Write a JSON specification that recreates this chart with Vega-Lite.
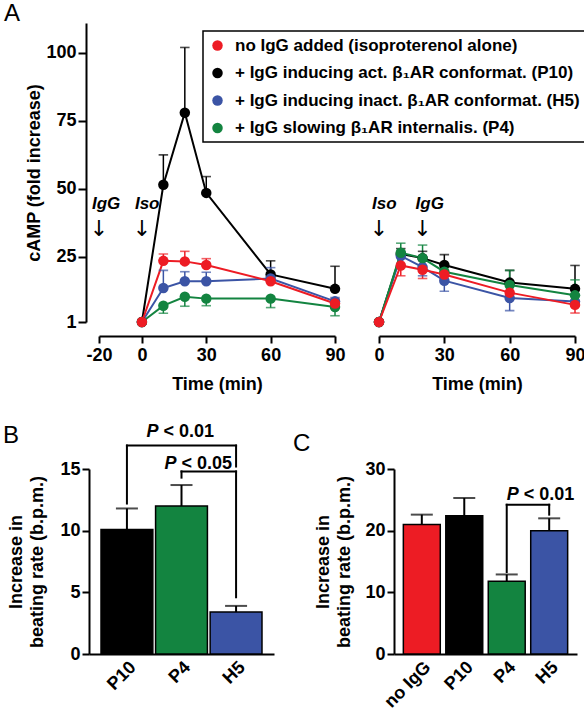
{
  "$schema": "https://vega.github.io/schema/vega-lite/v6.json",
  "padding": {"left": 3, "top": 2, "right": 0, "bottom": 0},
  "config": {
    "view": {"stroke": null},
    "font": "Liberation Sans",
    "axis": {
      "labelFont": "Liberation Sans", "labelFontSize": 18, "labelFontWeight": "bold", "labelColor": "#000",
      "titleFont": "Liberation Sans", "titleFontSize": 18, "titleFontWeight": "bold", "titleColor": "#000",
      "domainColor": "#000", "domainWidth": 2, "tickColor": "#000", "tickWidth": 2, "tickSize": 7,
      "grid": false, "labelPadding": 2, "titlePadding": 4, "labelFlush": false, "labelOverlap": false
    },
    "legend": {
      "strokeColor": "#000", "strokeWidth": 1.5, "padding": 6, "rowPadding": 9.5,
      "labelFont": "Liberation Sans", "labelFontSize": 17, "labelFontWeight": "bold", "labelColor": "#000",
      "labelLimit": 500, "symbolType": "circle", "symbolSize": 110, "labelOffset": 9, "symbolStrokeWidth": 0, "symbolOpacity": 1
    },
    "title": {"font": "Liberation Sans", "fontSize": 24, "fontWeight": "normal", "color": "#000", "anchor": "start", "frame": "group", "offset": 0, "baseline": "alphabetic"}
  },
  "datasets": {
    "ts": [
      {"p": "L", "s": "P10", "t": 0, "v": 1},
      {"p": "L", "s": "P10", "t": 10, "v": 51.5, "e": 62.5},
      {"p": "L", "s": "P10", "t": 20, "v": 78, "e": 102},
      {"p": "L", "s": "P10", "t": 30, "v": 48.5, "e": 54.5},
      {"p": "L", "s": "P10", "t": 60, "v": 18.5, "e": 23.5},
      {"p": "L", "s": "P10", "t": 90, "v": 13.2, "e": 21.5},
      {"p": "L", "s": "H5", "t": 0, "v": 1},
      {"p": "L", "s": "H5", "t": 10, "v": 13.5, "e": 20},
      {"p": "L", "s": "H5", "t": 20, "v": 16, "e": 19.5},
      {"p": "L", "s": "H5", "t": 30, "v": 16, "e": 19.3},
      {"p": "L", "s": "H5", "t": 60, "v": 17, "e": 21},
      {"p": "L", "s": "H5", "t": 90, "v": 8.6, "e": 10},
      {"p": "L", "s": "P4", "t": 0, "v": 1},
      {"p": "L", "s": "P4", "t": 10, "v": 7, "e": 4.2},
      {"p": "L", "s": "P4", "t": 20, "v": 10.3, "e": 6.8},
      {"p": "L", "s": "P4", "t": 30, "v": 9.6, "e": 7},
      {"p": "L", "s": "P4", "t": 60, "v": 9.6, "e": 6.3},
      {"p": "L", "s": "P4", "t": 90, "v": 6.5, "e": 3.3},
      {"p": "L", "s": "noIgG", "t": 0, "v": 1},
      {"p": "L", "s": "noIgG", "t": 10, "v": 23.5, "e": 26},
      {"p": "L", "s": "noIgG", "t": 20, "v": 23.3, "e": 27},
      {"p": "L", "s": "noIgG", "t": 30, "v": 22, "e": 24.3},
      {"p": "L", "s": "noIgG", "t": 60, "v": 16, "e": 17.5},
      {"p": "L", "s": "noIgG", "t": 90, "v": 7.8, "e": 9.5},
      {"p": "R", "s": "P10", "t": 0, "v": 1},
      {"p": "R", "s": "P10", "t": 10, "v": 26, "e": 28},
      {"p": "R", "s": "P10", "t": 20, "v": 24.5, "e": 27},
      {"p": "R", "s": "P10", "t": 30, "v": 22, "e": 25.8},
      {"p": "R", "s": "P10", "t": 60, "v": 15.5, "e": 20},
      {"p": "R", "s": "P10", "t": 90, "v": 13.2, "e": 21.8},
      {"p": "R", "s": "H5", "t": 0, "v": 1},
      {"p": "R", "s": "H5", "t": 10, "v": 25.3},
      {"p": "R", "s": "H5", "t": 20, "v": 21.2, "e": 18},
      {"p": "R", "s": "H5", "t": 30, "v": 16.2, "e": 12.3},
      {"p": "R", "s": "H5", "t": 60, "v": 9.8, "e": 5.2},
      {"p": "R", "s": "H5", "t": 90, "v": 8.5},
      {"p": "R", "s": "P4", "t": 0, "v": 1},
      {"p": "R", "s": "P4", "t": 10, "v": 26.5, "e": 30},
      {"p": "R", "s": "P4", "t": 20, "v": 24.5, "e": 29.3},
      {"p": "R", "s": "P4", "t": 30, "v": 19.5, "e": 22},
      {"p": "R", "s": "P4", "t": 60, "v": 14.6, "e": 20},
      {"p": "R", "s": "P4", "t": 90, "v": 10.8, "e": 16.5},
      {"p": "R", "s": "noIgG", "t": 0, "v": 1},
      {"p": "R", "s": "noIgG", "t": 10, "v": 21.8, "e": 18},
      {"p": "R", "s": "noIgG", "t": 20, "v": 20.2, "e": 17},
      {"p": "R", "s": "noIgG", "t": 30, "v": 18.5, "e": 16.5},
      {"p": "R", "s": "noIgG", "t": 60, "v": 11.8, "e": 9.5},
      {"p": "R", "s": "noIgG", "t": 90, "v": 7.3, "e": 4.3}
    ],
    "notes": [
      {"p": "L", "t": -20, "label": "IgG", "arrow": "↓"},
      {"p": "L", "t": 0, "label": "Iso", "arrow": "↓"},
      {"p": "R", "t": 0, "label": "Iso", "arrow": "↓"},
      {"p": "R", "t": 20, "label": "IgG", "arrow": "↓"}
    ],
    "bars": [
      {"p": "B", "grp": "P10", "v": 10.1, "e": 11.8},
      {"p": "B", "grp": "P4", "v": 12.0, "e": 13.7},
      {"p": "B", "grp": "H5", "v": 3.4, "e": 3.9},
      {"p": "C", "grp": "no IgG", "v": 21, "e": 22.6},
      {"p": "C", "grp": "P10", "v": 22.4, "e": 25.3},
      {"p": "C", "grp": "P4", "v": 11.8, "e": 12.9},
      {"p": "C", "grp": "H5", "v": 20, "e": 22}
    ],
    "brackets": [
      {"p": "B", "a": "P10", "b": "P10", "y1": 12.2, "y2": 16.9},
      {"p": "B", "a": "P10", "b": "H5", "y1": 16.9, "y2": 16.9},
      {"p": "B", "a": "H5", "b": "H5", "y1": 16.9, "y2": 15.2},
      {"p": "B", "a": "P4", "b": "P4", "y1": 14.3, "y2": 14.8},
      {"p": "B", "a": "P4", "b": "H5", "y1": 14.8, "y2": 14.8},
      {"p": "B", "a": "H5", "b": "H5", "y1": 14.8, "y2": 4.6},
      {"p": "C", "a": "P4", "b": "P4", "y1": 13.3, "y2": 24.2},
      {"p": "C", "a": "P4", "b": "H5", "y1": 24.2, "y2": 24.2},
      {"p": "C", "a": "H5", "b": "H5", "y1": 24.2, "y2": 22.6}
    ]
  },
  "spacing": 29,
  "vconcat": [
    {
      "bounds": "flush",
      "spacing": 0,
      "resolve": {"scale": {"x": "independent", "y": "independent", "color": "independent", "stroke": "independent"}, "legend": {"color": "independent", "stroke": "independent"}},
      "hconcat": [
        {"width": 10, "height": 10, "data": {"values": [{"k": 0}]}, "mark": {"type": "text", "text": ""}},
        {
          "width": 236, "height": 299,
          "title": {"text": "A", "dx": -95, "dy": 7},
          "layer": [
            {
              "data": {"name": "ts"}, "transform": [{"filter": "datum.p == 'L'"}],
              "mark": {"type": "line", "strokeWidth": 2},
              "encoding": {
                "x": {"field": "t", "type": "quantitative", "scale": {"domain": [-20, 90], "nice": false, "zero": false}, "axis": {"values": [-20, 0, 30, 60, 90], "offset": 14, "title": "Time (min)", "labelExpr": "'' + datum.value", "labelPadding": 3, "titleY": 53, "titleBaseline": "alphabetic"}},
                "y": {"field": "v", "type": "quantitative", "scale": {"domain": [1, 111], "nice": false, "zero": false}, "axis": {"values": [1, 25, 50, 75, 100], "offset": 13, "title": "cAMP (fold increase)", "titlePadding": 2, "tickSize": 8}},
                "stroke": {"field": "s", "type": "nominal", "scale": {"domain": ["noIgG", "P10", "H5", "P4"], "range": ["#ed1c24", "#000000", "#3b54a5", "#138440"]}}
              }
            },
            {
              "data": {"name": "ts"}, "transform": [{"filter": "datum.p == 'L' && isValid(datum.e)"}],
              "mark": {"type": "rule", "strokeWidth": 1.5},
              "encoding": {
                "x": {"field": "t", "type": "quantitative", "scale": {"domain": [-20, 90], "nice": false, "zero": false}},
                "y": {"field": "v", "type": "quantitative", "scale": {"domain": [1, 111], "nice": false, "zero": false}},
                "y2": {"field": "e"},
                "stroke": {"field": "s", "type": "nominal", "scale": {"domain": ["noIgG", "P10", "H5", "P4"], "range": ["#ed1c24", "#000000", "#3b54a5", "#138440"]}}
              }
            },
            {
              "data": {"name": "ts"}, "transform": [{"filter": "datum.p == 'L' && isValid(datum.e)"}],
              "mark": {"type": "tick", "orient": "horizontal", "size": 8, "thickness": 0.1, "filled": false, "strokeWidth": 1.5},
              "encoding": {
                "x": {"field": "t", "type": "quantitative", "scale": {"domain": [-20, 90], "nice": false, "zero": false}},
                "y": {"field": "e", "type": "quantitative", "scale": {"domain": [1, 111], "nice": false, "zero": false}},
                "stroke": {"field": "s", "type": "nominal", "scale": {"domain": ["noIgG", "P10", "H5", "P4"], "range": ["#ed1c24", "#000000", "#3b54a5", "#138440"]}}
              }
            },
            {
              "data": {"name": "ts"}, "transform": [{"filter": "datum.p == 'L'"}],
              "mark": {"type": "circle", "size": 110, "opacity": 1},
              "encoding": {
                "x": {"field": "t", "type": "quantitative", "scale": {"domain": [-20, 90], "nice": false, "zero": false}},
                "y": {"field": "v", "type": "quantitative", "scale": {"domain": [1, 111], "nice": false, "zero": false}},
                "color": {"field": "s", "type": "nominal", "scale": {"domain": ["noIgG", "P10", "H5", "P4"], "range": ["#ed1c24", "#000000", "#3b54a5", "#138440"]},
                  "legend": {"title": null, "orient": "none", "legendX": 104, "legendY": 8, "symbolOpacity": 1,
                    "labelExpr": "datum.value == 'noIgG' ? 'no IgG added (isoproterenol alone)' : datum.value == 'P10' ? '+ IgG inducing act. β₁AR conformat. (P10)' : datum.value == 'H5' ? '+ IgG inducing inact. β₁AR conformat. (H5)' : '+ IgG slowing β₁AR internalis. (P4)'"}}
              }
            },
            {
              "data": {"name": "notes"}, "transform": [{"filter": "datum.p == 'L'"}],
              "mark": {"type": "text", "fontSize": 17, "fontWeight": "bold", "fontStyle": "italic", "align": "left", "baseline": "middle", "dx": -7},
              "encoding": {
                "x": {"field": "t", "type": "quantitative", "scale": {"domain": [-20, 90], "nice": false, "zero": false}},
                "y": {"datum": 44.4, "type": "quantitative", "scale": {"domain": [1, 111], "nice": false, "zero": false}},
                "text": {"field": "label"}
              }
            },
            {
              "data": {"name": "notes"}, "transform": [{"filter": "datum.p == 'L'"}],
              "mark": {"type": "text", "font": "DejaVu Sans", "fontSize": 22, "fontWeight": "normal", "align": "center", "baseline": "middle", "color": "#000"},
              "encoding": {
                "x": {"field": "t", "type": "quantitative", "scale": {"domain": [-20, 90], "nice": false, "zero": false}},
                "y": {"datum": 35.3, "type": "quantitative", "scale": {"domain": [1, 111], "nice": false, "zero": false}},
                "text": {"field": "arrow"}
              }
            }
          ]
        },
        {"width": 44, "height": 10, "data": {"values": [{"k": 0}]}, "mark": {"type": "text", "text": ""}},
        {
          "width": 196, "height": 299,
          "layer": [
            {
              "data": {"name": "ts"}, "transform": [{"filter": "datum.p == 'R'"}],
              "mark": {"type": "line", "strokeWidth": 2},
              "encoding": {
                "x": {"field": "t", "type": "quantitative", "scale": {"domain": [0, 90], "nice": false, "zero": false}, "axis": {"values": [0, 30, 60, 90], "offset": 14, "title": "Time (min)", "labelPadding": 3, "titleY": 53, "titleBaseline": "alphabetic"}},
                "y": {"field": "v", "type": "quantitative", "scale": {"domain": [1, 111], "nice": false, "zero": false}, "axis": null},
                "stroke": {"field": "s", "type": "nominal", "scale": {"domain": ["noIgG", "P10", "H5", "P4"], "range": ["#ed1c24", "#000000", "#3b54a5", "#138440"]}, "legend": null}
              }
            },
            {
              "data": {"name": "ts"}, "transform": [{"filter": "datum.p == 'R' && isValid(datum.e)"}],
              "mark": {"type": "rule", "strokeWidth": 1.5},
              "encoding": {
                "x": {"field": "t", "type": "quantitative", "scale": {"domain": [0, 90], "nice": false, "zero": false}},
                "y": {"field": "v", "type": "quantitative", "scale": {"domain": [1, 111], "nice": false, "zero": false}, "axis": null},
                "y2": {"field": "e"},
                "stroke": {"field": "s", "type": "nominal", "scale": {"domain": ["noIgG", "P10", "H5", "P4"], "range": ["#ed1c24", "#000000", "#3b54a5", "#138440"]}, "legend": null}
              }
            },
            {
              "data": {"name": "ts"}, "transform": [{"filter": "datum.p == 'R' && isValid(datum.e)"}],
              "mark": {"type": "tick", "orient": "horizontal", "size": 8, "thickness": 0.1, "filled": false, "strokeWidth": 1.5},
              "encoding": {
                "x": {"field": "t", "type": "quantitative", "scale": {"domain": [0, 90], "nice": false, "zero": false}},
                "y": {"field": "e", "type": "quantitative", "scale": {"domain": [1, 111], "nice": false, "zero": false}, "axis": null},
                "stroke": {"field": "s", "type": "nominal", "scale": {"domain": ["noIgG", "P10", "H5", "P4"], "range": ["#ed1c24", "#000000", "#3b54a5", "#138440"]}, "legend": null}
              }
            },
            {
              "data": {"name": "ts"}, "transform": [{"filter": "datum.p == 'R'"}],
              "mark": {"type": "circle", "size": 110, "opacity": 1},
              "encoding": {
                "x": {"field": "t", "type": "quantitative", "scale": {"domain": [0, 90], "nice": false, "zero": false}},
                "y": {"field": "v", "type": "quantitative", "scale": {"domain": [1, 111], "nice": false, "zero": false}, "axis": null},
                "color": {"field": "s", "type": "nominal", "scale": {"domain": ["noIgG", "P10", "H5", "P4"], "range": ["#ed1c24", "#000000", "#3b54a5", "#138440"]}, "legend": null}
              }
            },
            {
              "data": {"name": "notes"}, "transform": [{"filter": "datum.p == 'R'"}],
              "mark": {"type": "text", "fontSize": 17, "fontWeight": "bold", "fontStyle": "italic", "align": "left", "baseline": "middle", "dx": -7},
              "encoding": {
                "x": {"field": "t", "type": "quantitative", "scale": {"domain": [0, 90], "nice": false, "zero": false}},
                "y": {"datum": 44.4, "type": "quantitative", "scale": {"domain": [1, 111], "nice": false, "zero": false}, "axis": null},
                "text": {"field": "label"}
              }
            },
            {
              "data": {"name": "notes"}, "transform": [{"filter": "datum.p == 'R'"}],
              "mark": {"type": "text", "font": "DejaVu Sans", "fontSize": 22, "fontWeight": "normal", "align": "center", "baseline": "middle", "color": "#000"},
              "encoding": {
                "x": {"field": "t", "type": "quantitative", "scale": {"domain": [0, 90], "nice": false, "zero": false}},
                "y": {"datum": 35.3, "type": "quantitative", "scale": {"domain": [1, 111], "nice": false, "zero": false}, "axis": null},
                "text": {"field": "arrow"}
              }
            }
          ]
        }
      ]
    },
    {
      "bounds": "flush",
      "spacing": 0,
      "resolve": {"scale": {"x": "independent", "y": "independent", "color": "independent"}},
      "hconcat": [
        {
          "width": 185, "height": 185,
          "title": {"text": "B", "dx": -86, "dy": 29},
          "layer": [
            {
              "data": {"name": "bars"}, "transform": [{"filter": "datum.p == 'B'"}],
              "mark": {"type": "bar", "stroke": "#000", "strokeWidth": 1.5},
              "encoding": {
                "x": {"field": "grp", "type": "nominal", "sort": null, "scale": {"domain": ["P10", "P4", "H5"], "paddingInner": 0.05, "paddingOuter": 0.22}, "axis": {"labelAngle": -45, "ticks": false, "title": null, "labelPadding": 4}},
                "y": {"field": "v", "type": "quantitative", "scale": {"domain": [0, 15], "nice": false}, "axis": {"values": [0, 5, 10, 15], "title": ["Increase in", "beating rate (b.p.m.)"], "titleLineHeight": 21, "titlePadding": 13}},
                "color": {"field": "grp", "type": "nominal", "scale": {"domain": ["no IgG", "P10", "H5", "P4"], "range": ["#ed1c24", "#000000", "#3b54a5", "#138440"]}, "legend": null}
              }
            },
            {
              "data": {"name": "bars"}, "transform": [{"filter": "datum.p == 'B'"}],
              "mark": {"type": "rule", "strokeWidth": 2, "color": "#000"},
              "encoding": {
                "x": {"field": "grp", "type": "nominal", "sort": null, "scale": {"domain": ["P10", "P4", "H5"], "paddingInner": 0.05, "paddingOuter": 0.22}},
                "y": {"field": "v", "type": "quantitative", "scale": {"domain": [0, 15], "nice": false}},
                "y2": {"field": "e"}
              }
            },
            {
              "data": {"name": "bars"}, "transform": [{"filter": "datum.p == 'B'"}],
              "mark": {"type": "tick", "orient": "horizontal", "size": 22, "thickness": 2, "color": "#000"},
              "encoding": {
                "x": {"field": "grp", "type": "nominal", "sort": null, "scale": {"domain": ["P10", "P4", "H5"], "paddingInner": 0.05, "paddingOuter": 0.22}},
                "y": {"field": "e", "type": "quantitative", "scale": {"domain": [0, 15], "nice": false}}
              }
            },
            {
              "data": {"name": "brackets"}, "transform": [{"filter": "datum.p == 'B'"}],
              "mark": {"type": "rule", "strokeWidth": 2, "color": "#000", "strokeCap": "square"},
              "encoding": {
                "x": {"field": "a", "type": "nominal", "sort": null, "scale": {"domain": ["P10", "P4", "H5"], "paddingInner": 0.05, "paddingOuter": 0.22}},
                "x2": {"field": "b"},
                "y": {"field": "y1", "type": "quantitative", "scale": {"domain": [0, 15], "nice": false}},
                "y2": {"field": "y2"}
              }
            },
            {
              "data": {"values": [{"grp": "P4", "y": 17.6, "pt": "P", "rest": "< 0.01"}]},
              "layer": [
                {"mark": {"type": "text", "fontSize": 18, "fontWeight": "bold", "fontStyle": "italic", "align": "right", "baseline": "alphabetic", "dx": -23},
                 "encoding": {"text": {"field": "pt"}}},
                {"mark": {"type": "text", "fontSize": 18, "fontWeight": "bold", "align": "left", "baseline": "alphabetic", "dx": -18},
                 "encoding": {"text": {"field": "rest"}}}
              ],
              "encoding": {
                "x": {"field": "grp", "type": "nominal", "sort": null, "scale": {"domain": ["P10", "P4", "H5"], "paddingInner": 0.05, "paddingOuter": 0.22}},
                "y": {"field": "y", "type": "quantitative", "scale": {"domain": [0, 15], "nice": false}}
              }
            },
            {
              "data": {"values": [{"grp": "P4", "y": 15.0, "pt": "P", "rest": "< 0.05"}]},
              "layer": [
                {"mark": {"type": "text", "fontSize": 18, "fontWeight": "bold", "fontStyle": "italic", "align": "right", "baseline": "alphabetic", "dx": -5},
                 "encoding": {"text": {"field": "pt"}}},
                {"mark": {"type": "text", "fontSize": 18, "fontWeight": "bold", "align": "left", "baseline": "alphabetic", "dx": 0},
                 "encoding": {"text": {"field": "rest"}}}
              ],
              "encoding": {
                "x": {"field": "grp", "type": "nominal", "sort": null, "scale": {"domain": ["P10", "P4", "H5"], "paddingInner": 0.05, "paddingOuter": 0.22}},
                "y": {"field": "y", "type": "quantitative", "scale": {"domain": [0, 15], "nice": false}}
              }
            }
          ]
        },
        {"width": 120, "height": 10, "data": {"values": [{"k": 0}]}, "mark": {"type": "text", "text": ""}},
        {
          "width": 183, "height": 185,
          "title": {"text": "C", "dx": -101, "dy": 0},
          "layer": [
            {
              "data": {"name": "bars"}, "transform": [{"filter": "datum.p == 'C'"}],
              "mark": {"type": "bar", "stroke": "#000", "strokeWidth": 1.5},
              "encoding": {
                "x": {"field": "grp", "type": "nominal", "sort": null, "scale": {"domain": ["no IgG", "P10", "P4", "H5"], "paddingInner": 0.13, "paddingOuter": 0.22}, "axis": {"labelAngle": -45, "ticks": false, "title": null, "labelPadding": 4}},
                "y": {"field": "v", "type": "quantitative", "scale": {"domain": [0, 30], "nice": false}, "axis": {"values": [0, 10, 20, 30], "title": ["Increase in", "beating rate (b.p.m.)"], "titleLineHeight": 21, "titlePadding": 11}},
                "color": {"field": "grp", "type": "nominal", "scale": {"domain": ["no IgG", "P10", "H5", "P4"], "range": ["#ed1c24", "#000000", "#3b54a5", "#138440"]}, "legend": null}
              }
            },
            {
              "data": {"name": "bars"}, "transform": [{"filter": "datum.p == 'C'"}],
              "mark": {"type": "rule", "strokeWidth": 2, "color": "#000"},
              "encoding": {
                "x": {"field": "grp", "type": "nominal", "sort": null, "scale": {"domain": ["no IgG", "P10", "P4", "H5"], "paddingInner": 0.13, "paddingOuter": 0.22}},
                "y": {"field": "v", "type": "quantitative", "scale": {"domain": [0, 30], "nice": false}},
                "y2": {"field": "e"}
              }
            },
            {
              "data": {"name": "bars"}, "transform": [{"filter": "datum.p == 'C'"}],
              "mark": {"type": "tick", "orient": "horizontal", "size": 22, "thickness": 2, "color": "#000"},
              "encoding": {
                "x": {"field": "grp", "type": "nominal", "sort": null, "scale": {"domain": ["no IgG", "P10", "P4", "H5"], "paddingInner": 0.13, "paddingOuter": 0.22}},
                "y": {"field": "e", "type": "quantitative", "scale": {"domain": [0, 30], "nice": false}}
              }
            },
            {
              "data": {"name": "brackets"}, "transform": [{"filter": "datum.p == 'C'"}],
              "mark": {"type": "rule", "strokeWidth": 2, "color": "#000", "strokeCap": "square"},
              "encoding": {
                "x": {"field": "a", "type": "nominal", "sort": null, "scale": {"domain": ["no IgG", "P10", "P4", "H5"], "paddingInner": 0.13, "paddingOuter": 0.22}},
                "x2": {"field": "b"},
                "y": {"field": "y1", "type": "quantitative", "scale": {"domain": [0, 30], "nice": false}},
                "y2": {"field": "y2"}
              }
            },
            {
              "data": {"values": [{"grp": "P4", "y": 25.0, "pt": "P", "rest": "< 0.01"}]},
              "layer": [
                {"mark": {"type": "text", "fontSize": 18, "fontWeight": "bold", "fontStyle": "italic", "align": "right", "baseline": "alphabetic", "dx": 12},
                 "encoding": {"text": {"field": "pt"}}},
                {"mark": {"type": "text", "fontSize": 18, "fontWeight": "bold", "align": "left", "baseline": "alphabetic", "dx": 17},
                 "encoding": {"text": {"field": "rest"}}}
              ],
              "encoding": {
                "x": {"field": "grp", "type": "nominal", "sort": null, "scale": {"domain": ["no IgG", "P10", "P4", "H5"], "paddingInner": 0.13, "paddingOuter": 0.22}},
                "y": {"field": "y", "type": "quantitative", "scale": {"domain": [0, 30], "nice": false}}
              }
            }
          ]
        }
      ]
    }
  ]
}
